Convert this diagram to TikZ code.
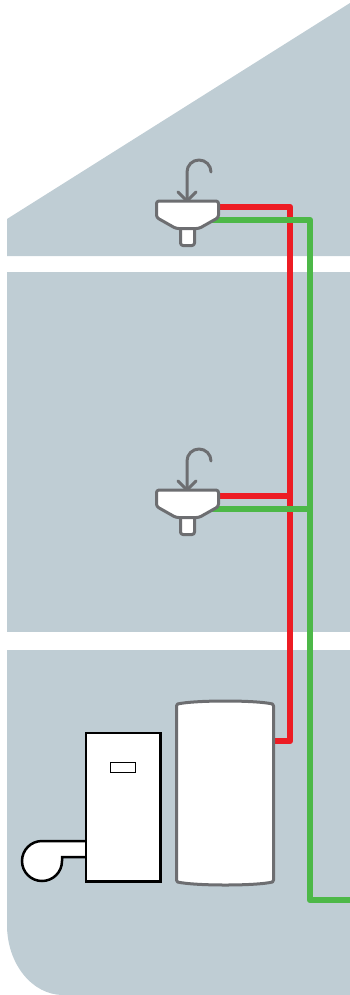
\documentclass[tikz,border=0pt]{standalone}
\usepackage{xcolor}
\usetikzlibrary{positioning}
\definecolor{WallBlue}{HTML}{BFCDD4}
\definecolor{PipeRed}{HTML}{ED1C24}
\definecolor{PipeGreen}{HTML}{4DB848}
\definecolor{FixtureGrey}{HTML}{6D6E71}
\begin{document}
\begin{tikzpicture}[
  x=1pt, y=-1pt,
  floor/.style={fill=WallBlue, draw=none},
  hot/.style={draw=PipeRed, line width=6.5pt, line join=round},
  cold/.style={draw=PipeGreen, line width=6.5pt, line join=round},
  fixture/.style={draw=FixtureGrey, line width=3pt, line join=round, fill=white},
  boilerline/.style={draw=black, line width=2.5pt, fill=white},
  sink/.pic={
    \draw[fixture, fill=none, line cap=round] (187,201) -- (187,172) arc[start angle=180, end angle=360, radius=12];
    \draw[fixture, fill=none, line cap=round] (178,192) -- (187,201) -- (196,192);
    \draw[fixture, rounded corners=2.5pt] (180.5,226) rectangle (194.5,245.5);
    \draw[fixture, rounded corners=2.5pt] (156.5,201) -- (218.5,201) -- (218.5,217.5) -- (199,228.5) -- (176,228.5) -- (156.5,217.5) -- cycle;
  }
]
  \useasboundingbox (0,0) rectangle (350,995);

  \fill[floor] (7,219) -- (350,3) -- (350,256) -- (7,256) -- cycle;
  \fill[floor] (7,272) rectangle (350,632);
  \fill[floor] (7,650) -- (350,650) -- (350,995) -- (63,995) arc[start angle=90, end angle=180, x radius=56, y radius=70] -- cycle;

  \coordinate (hotUpper) at (290,207);
  \coordinate (hotLower) at (290,496);
  \coordinate (hotBase) at (290,741);
  \coordinate (coldUpper) at (310,220);
  \coordinate (coldLower) at (310,509);
  \coordinate (coldBase) at (310,900);
  \coordinate (coldOut) at (350,900);
  \coordinate (sinkUpperHot) at (215,207);
  \coordinate (sinkUpperCold) at (208,220);
  \coordinate (sinkLowerHot) at (215,496);
  \coordinate (sinkLowerCold) at (208,509);
  \coordinate (tankHot) at (272,741);

  \draw[hot] (sinkUpperHot) -- (hotUpper) -- (hotBase) -- (tankHot);
  \draw[hot] (sinkLowerHot) -- (hotLower);
  \draw[cold] (sinkUpperCold) -- (coldUpper) -- (coldBase) -- (coldOut);
  \draw[cold] (sinkLowerCold) -- (coldLower);

  \pic {sink};
  \pic[yshift=-289pt] {sink};

  \draw[fixture] (177.5,704) .. controls (195,700) and (256,700) .. (272.5,704)
    .. controls (273.5,704.5) and (273.5,705) .. (273.5,706) -- (273.5,880)
    .. controls (273.5,881) and (273.5,881.5) .. (272.5,882)
    .. controls (256,886) and (195,886) .. (177.5,882)
    .. controls (176.5,881.5) and (176.5,881) .. (176.5,880) -- (176.5,706)
    .. controls (176.5,705) and (176.5,704.5) .. (177.5,704) -- cycle;

  \draw[boilerline] (86,841) -- (42,841) arc[start angle=-90, end angle=-360, radius=20] -- (62,857) -- (86,857);
  \node[boilerline, outer sep=0pt, inner sep=0pt, minimum width=74.5pt, minimum height=148.5pt, anchor=north west] (boiler) at (86,733) {};
  \node[draw=black, line width=0.8pt, fill=white, outer sep=0pt, inner sep=0pt, minimum width=25pt, minimum height=10pt, below=29.5pt of boiler.north] (display) {};
\end{tikzpicture}
\end{document}
